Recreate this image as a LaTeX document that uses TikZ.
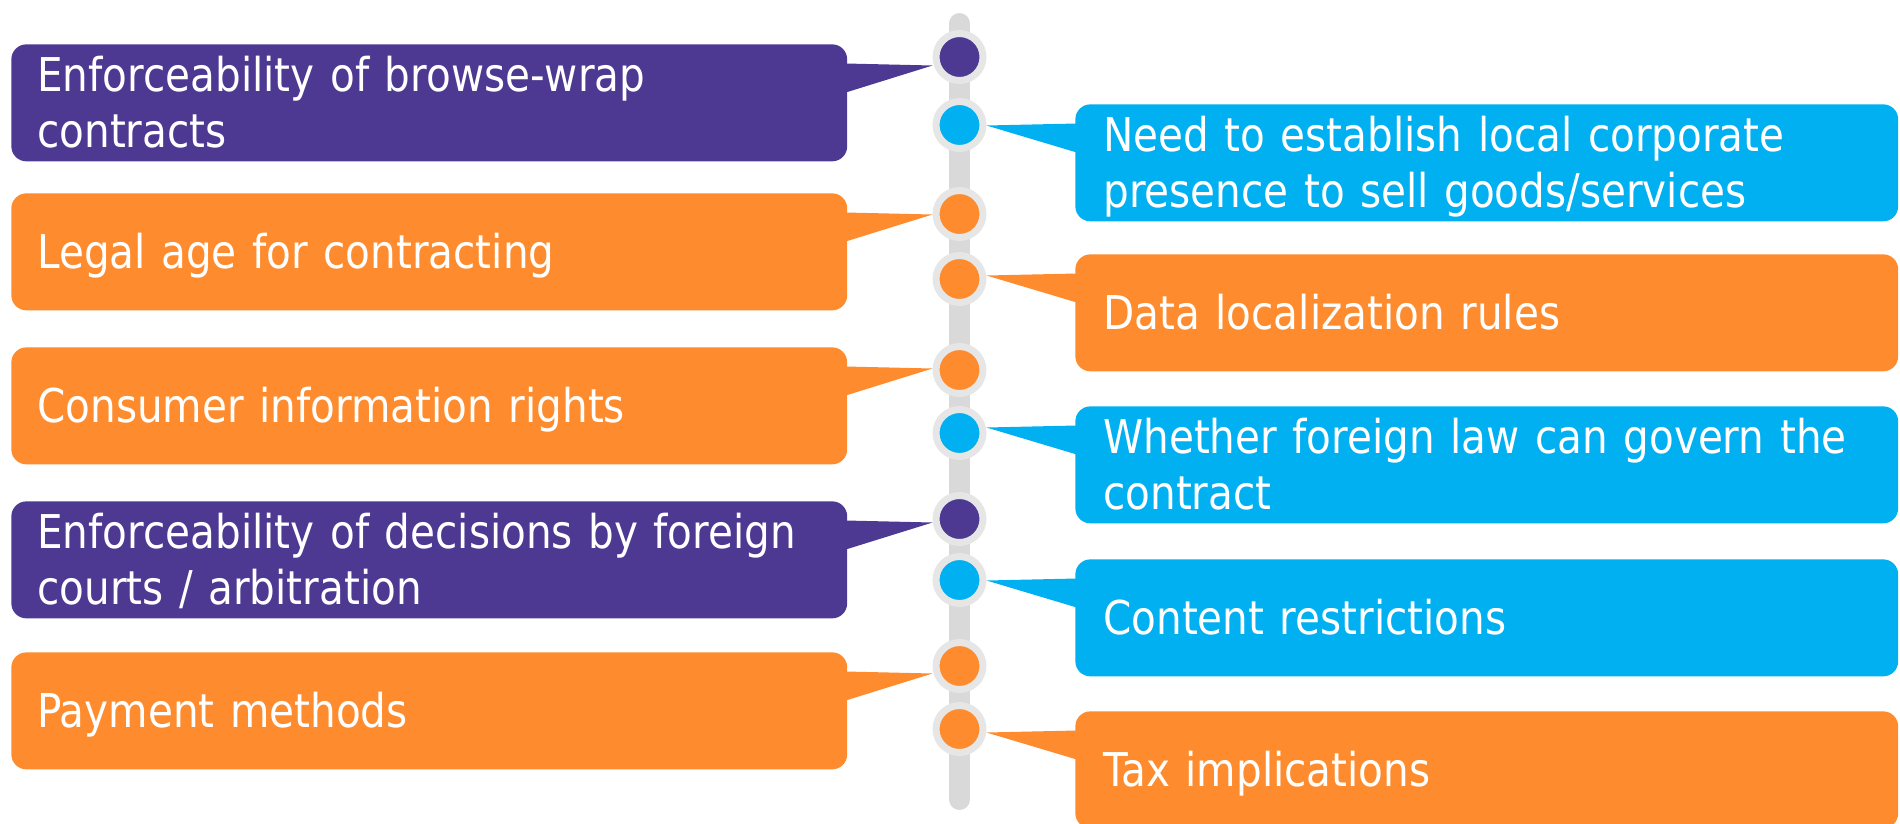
\documentclass[tikz,border=0pt]{standalone}
\usepackage{fontspec}
\setmainfont{DejaVu Sans}[FakeStretch=0.87]
\usetikzlibrary{calc}

\definecolor{purp}{RGB}{78,57,146}
\definecolor{orng}{RGB}{254,140,46}
\definecolor{skyb}{RGB}{0,176,240}
\definecolor{spinegray}{RGB}{217,217,217}
\definecolor{ringgray}{RGB}{230,230,230}

% struts so one- and two-line boxes centre the same way
\newcommand\topstrut{\rule{0pt}{26.35pt}}
\newcommand\botstrut{\rule[-7pt]{0pt}{7pt}}

% callout pointers: box, dot, colour
\newcommand\lptr[3]{\fill[#3] let \p1=(#1.north east), \p2=(#2.west) in
  (\x1-1pt,\y1-0.39cm) -- (\x2,\y1-0.43cm) -- (\x1-1pt,\y1-0.97cm) -- cycle;}
\newcommand\rptr[3]{\fill[#3] let \p1=(#1.north west), \p2=(#2.east) in
  (\x1+1pt,\y1-0.39cm) -- (\x2,\y1-0.43cm) -- (\x1+1pt,\y1-0.97cm) -- cycle;}

\tikzset{
  box/.style={anchor=north west, minimum height=2.34cm, inner ysep=0pt,
    rounded corners=0.3cm, align=left, text=white,
    font=\fontsize{26.5pt}{31.9pt}\selectfont,
    execute at begin node=\topstrut, execute at end node=\botstrut},
  lbox/.style={box, minimum width=16.72cm, text width=15.68cm, inner xsep=0.52cm},
  rbox/.style={box, minimum width=16.46cm, text width=15.34cm, inner xsep=0.56cm},
  dot/.style={circle, minimum size=0.94cm, inner sep=0pt, draw=ringgray, line width=0.14cm}
}

\begin{document}
\begin{tikzpicture}[x=0.02cm, y=-0.02cm]
    \useasboundingbox (0,0) rectangle (1900,823);
    \clip (0,0) rectangle (1900,823);
    % spine
    \coordinate (top) at (959.5,23.5);
    \coordinate (bottom) at (959.5,799.5);
    \draw[spinegray, line width=0.42cm, line cap=round] (top) -- (bottom);
    % dots on the spine
    \foreach \n/\y/\c in {1/57/purp, 2/125/skyb, 3/214/orng, 4/279/orng, 5/370/orng,
                          6/433/skyb, 7/519/purp, 8/580/skyb, 9/666/orng, 10/729/orng}
        \node[dot, fill=\c] (d\n) at (959.5,\y) {};
    % left column
    \node[lbox, fill=purp] (l1) at (11,44) {Enforceability of browse-wrap\\contracts};
    \node[lbox, fill=orng] (l2) at (11,193) {Legal age for contracting};
    \node[lbox, fill=orng] (l3) at (11,347) {Consumer information rights};
    \node[lbox, fill=purp] (l4) at (11,501) {Enforceability of decisions by foreign\\courts / arbitration};
    \node[lbox, fill=orng] (l5) at (11,652) {Payment methods};
    % right column
    \node[rbox, fill=skyb] (r1) at (1075,104) {Need to establish local corporate\\presence to sell goods/services};
    \node[rbox, fill=orng] (r2) at (1075,254) {Data localization rules};
    \node[rbox, fill=skyb] (r3) at (1075,406) {Whether foreign law can govern the\\contract};
    \node[rbox, fill=skyb] (r4) at (1075,559) {Content restrictions};
    \node[rbox, fill=orng] (r5) at (1075,711) {Tax implications};
    % pointers
    \foreach \b/\d/\c in {l1/d1/purp, l2/d3/orng, l3/d5/orng, l4/d7/purp, l5/d9/orng}
        {\lptr{\b}{\d}{\c}}
    \foreach \b/\d/\c in {r1/d2/skyb, r2/d4/orng, r3/d6/skyb, r4/d8/skyb, r5/d10/orng}
        {\rptr{\b}{\d}{\c}}
\end{tikzpicture}
\end{document}
